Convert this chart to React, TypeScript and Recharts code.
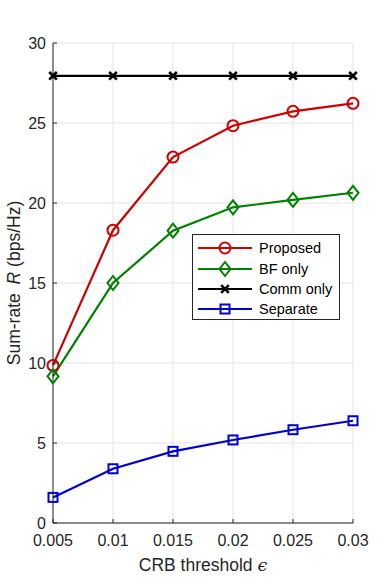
import * as React from "react";
import {
  CartesianGrid,
  Label,
  Legend,
  Line,
  LineChart,
  XAxis,
  YAxis,
} from "recharts";

// CRB threshold values (x) and sum-rate per scheme (bps/Hz)
const epsilons = [0.005, 0.01, 0.015, 0.02, 0.025, 0.03];
const proposed = [9.85, 18.3, 22.87, 24.83, 25.73, 26.23];
const bfOnly = [9.17, 15.0, 18.27, 19.73, 20.19, 20.64];
const commOnly = [27.95, 27.95, 27.95, 27.95, 27.95, 27.95];
const separate = [1.6, 3.39, 4.48, 5.19, 5.83, 6.39];
const yTicks = [0, 5, 10, 15, 20, 25, 30];

const FONT = "'Liberation Sans', Arial, Helvetica, sans-serif";
const AXIS = "#262626";

type Marker = "circle" | "diamond" | "cross" | "square";

const SERIES: { key: string; name: string; color: string; marker: Marker }[] = [
  { key: "proposed", name: "Proposed", color: "#cc0000", marker: "circle" },
  { key: "bf", name: "BF only", color: "#008000", marker: "diamond" },
  { key: "comm", name: "Comm only", color: "#000000", marker: "cross" },
  { key: "sep", name: "Separate", color: "#0000cc", marker: "square" },
];

const data = epsilons.map((e, i) => ({
  eps: e,
  proposed: proposed[i],
  bf: bfOnly[i],
  comm: commOnly[i],
  sep: separate[i],
}));

function MarkerShape({ kind, cx, cy, color }: { kind: Marker; cx: number; cy: number; color: string }) {
  if (kind === "circle") {
    return <circle cx={cx} cy={cy} r={5.5} fill="none" stroke={color} strokeWidth={2} />;
  }
  if (kind === "diamond") {
    const pts = `${cx},${cy - 7} ${cx + 5.5},${cy} ${cx},${cy + 7} ${cx - 5.5},${cy}`;
    return <polygon points={pts} fill="none" stroke={color} strokeWidth={2} />;
  }
  if (kind === "cross") {
    const d = 3.8;
    return (
      <g stroke={color} strokeWidth={2.6}>
        <line x1={cx - d} y1={cy - d} x2={cx + d} y2={cy + d} />
        <line x1={cx - d} y1={cy + d} x2={cx + d} y2={cy - d} />
      </g>
    );
  }
  return <rect x={cx - 4.5} y={cy - 4.5} width={9} height={9} fill="none" stroke={color} strokeWidth={2} />;
}

function makeDot(kind: Marker, color: string) {
  return (props: any) => {
    const { cx, cy, index } = props;
    if (cx == null || cy == null) return <g key={index} />;
    return <MarkerShape key={index} kind={kind} cx={cx} cy={cy} color={color} />;
  };
}

function LegendBox() {
  return (
    <div
      style={{
        width: 148,
        height: 86,
        boxSizing: "border-box",
        border: `1px solid ${AXIS}`,
        background: "#fff",
        paddingTop: 3,
        fontFamily: FONT,
        fontSize: 14.5,
        color: "#000",
      }}
    >
      {SERIES.map((s) => (
        <div key={s.key} style={{ display: "flex", alignItems: "center", height: 20.4 }}>
          <svg width={64} height={20} style={{ display: "block" }}>
            <line x1={5} y1={10} x2={59} y2={10} stroke={s.color} strokeWidth={2.2} />
            <MarkerShape kind={s.marker} cx={32} cy={10} color={s.color} />
          </svg>
          <span style={{ marginLeft: 2, lineHeight: "20px" }}>{s.name}</span>
        </div>
      ))}
    </div>
  );
}

export default function App() {
  return (
    <div style={{ position: "absolute", left: 0, top: 0, background: "#fff" }}>
      <LineChart
        width={390}
        height={588}
        data={data}
        margin={{ top: 43, right: 37, left: 0, bottom: 0 }}
      >
        <CartesianGrid stroke="#e3e3e3" strokeWidth={1} xAxisId="x" yAxisId="y" />
        <XAxis
          xAxisId="x"
          dataKey="eps"
          type="number"
          domain={[0.005, 0.03]}
          ticks={epsilons}
          tickFormatter={(v) => String(v)}
          height={65}
          tickSize={-4}
          tickMargin={16}
          stroke={AXIS}
          tick={{ fill: AXIS, fontSize: 16, fontFamily: FONT }}
          interval={0}
        >
          <Label
            content={(props: any) => {
              const vb = props.viewBox || {};
              return (
                <text
                  x={vb.x + vb.width / 2}
                  y={vb.y + 48}
                  textAnchor="middle"
                  fontFamily={FONT}
                  fontSize={17.5}
                  fill={AXIS}
                >
                  CRB threshold <tspan fontStyle="italic" fontFamily="'DejaVu Serif', serif">ϵ</tspan>
                </text>
              );
            }}
          />
        </XAxis>
        <XAxis
          xAxisId="xt"
          orientation="top"
          type="number"
          domain={[0.005, 0.03]}
          ticks={epsilons}
          height={0}
          tick={false}
          tickSize={-4}
          stroke={AXIS}
          interval={0}
        />
        <YAxis
          yAxisId="y"
          type="number"
          domain={[0, 30]}
          ticks={yTicks}
          width={53}
          tickSize={-4}
          tickMargin={11}
          stroke={AXIS}
          tick={{ fill: AXIS, fontSize: 16, fontFamily: FONT }}
          interval={0}
        >
          <Label
            content={(props: any) => {
              const vb = props.viewBox || {};
              const cx = vb.x + 14;
              const cy = vb.y + vb.height / 2;
              return (
                <text
                  transform={`translate(${cx},${cy}) rotate(-90)`}
                  textAnchor="middle"
                  dominantBaseline="central"
                  fontFamily={FONT}
                  fontSize={17.5}
                  fill={AXIS}
                >
                  Sum-rate <tspan dx={4} fontStyle="italic">R</tspan> (bps/Hz)
                </text>
              );
            }}
          />
        </YAxis>
        <YAxis
          yAxisId="yr"
          orientation="right"
          type="number"
          domain={[0, 30]}
          ticks={yTicks}
          width={0}
          tick={false}
          tickSize={-4}
          stroke={AXIS}
          interval={0}
        />
        {SERIES.map((s) => (
          <Line
            key={s.key}
            xAxisId="x"
            yAxisId="y"
            dataKey={s.key}
            name={s.name}
            stroke={s.color}
            strokeWidth={2.2}
            dot={makeDot(s.marker, s.color)}
            activeDot={false}
            isAnimationActive={false}
          />
        ))}
        <Legend
          layout="vertical"
          align="center"
          verticalAlign="middle"
          content={() => <LegendBox />}
          wrapperStyle={{ left: 192, top: 234, width: 148, height: 86 }}
        />
      </LineChart>
    </div>
  );
}
